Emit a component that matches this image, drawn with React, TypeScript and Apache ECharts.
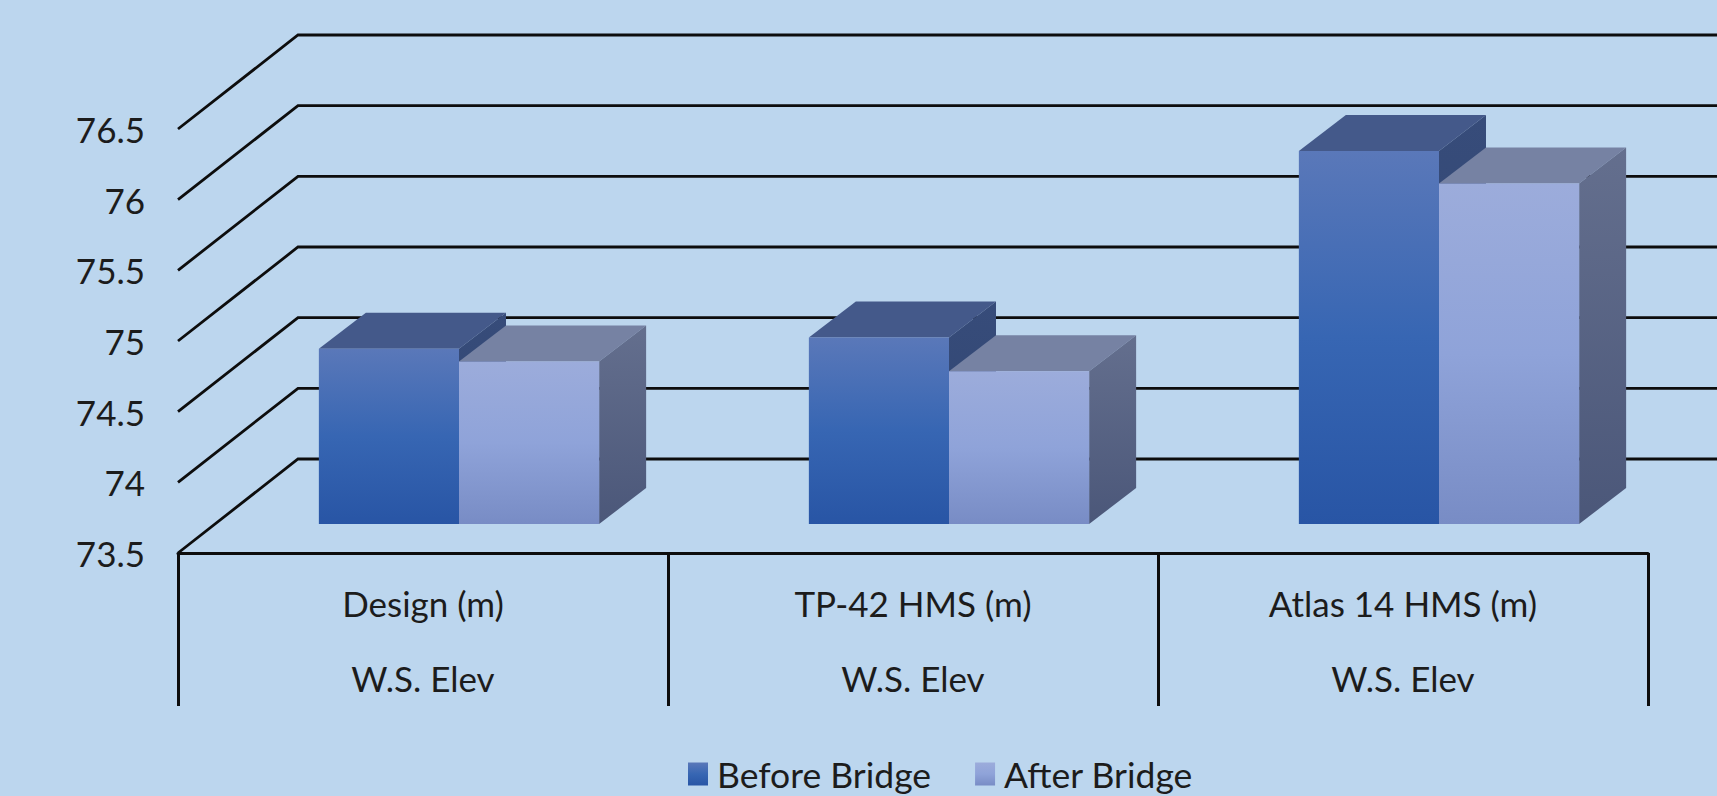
import React, { useEffect, useRef } from "react";
import * as echarts from "echarts";

const topLabels = ["Design (m)", "TP-42 HMS (m)", "Atlas 14 HMS (m)"];
const groupLabels = ["W.S. Elev", "W.S. Elev", "W.S. Elev"];
const yTicks = [73.5, 74, 74.5, 75, 75.5, 76, 76.5];
const beforeBridge = [74.74, 74.82, 76.14];
const afterBridge = [74.65, 74.58, 75.91];

const FONT = "Lato";
const BG = "#bcd6ee";
const BAR_RATIO = 0.286;
// Floor depth of the 3D box, in pixels.
const DEPTH_X = 120;
const DEPTH_Y = 94;
// Bars stand this far back from the front edge of the floor.
const INSET_X = 36;
const INSET_Y = 29;
// Depth of a bar's own box.
const BOX_X = 47;
const BOX_Y = 36;

const vGrad = (stops: [number, string][]) =>
  new echarts.graphic.LinearGradient(
    0, 0, 0, 1,
    stops.map(([offset, color]) => ({ offset, color }))
  );

const beforeFront = () => vGrad([[0, "#5a78b9"], [0.5, "#3766b3"], [1, "#2855a5"]]);
const afterFront = () => vGrad([[0, "#9cacdb"], [0.5, "#8fa3d9"], [1, "#788cc5"]]);

const boxItem = (
  side: number,
  front: () => any,
  topFill: string,
  sideFill: () => any
) => (_params: any, api: any) => {
  const i = api.value(0);
  const v = api.value(1);
  const band = api.size([1, 0])[0];
  const w = band * BAR_RATIO;
  const [cx, yTop] = api.coord([i, v]);
  const [, yBase] = api.coord([i, yTicks[0]]);
  const x0 = cx + INSET_X + (side < 0 ? -w : 0);
  const x1 = x0 + w;
  const yT = yTop - INSET_Y;
  const yB = yBase - INSET_Y;
  return {
    type: "group",
    children: [
      {
        type: "polygon",
        shape: { points: [[x0, yT], [x1, yT], [x1 + BOX_X, yT - BOX_Y], [x0 + BOX_X, yT - BOX_Y]] },
        style: { fill: topFill },
      },
      {
        type: "polygon",
        shape: { points: [[x1, yT], [x1 + BOX_X, yT - BOX_Y], [x1 + BOX_X, yB - BOX_Y], [x1, yB]] },
        style: { fill: sideFill() },
      },
      {
        type: "rect",
        shape: { x: x0, y: yT, width: w, height: yB - yT },
        style: { fill: front() },
      },
    ],
  };
};

// Receding wall lines: a diagonal from the front tick, then horizontal along the back wall.
const wallLine = (params: any, api: any) => {
  const left = params.coordSys.x;
  const [, y] = api.coord([0, api.value(0)]);
  return {
    type: "polyline",
    shape: {
      points: [[left, y], [left + DEPTH_X, y - DEPTH_Y], [api.getWidth(), y - DEPTH_Y]],
    },
    style: { stroke: "#0d0d0d", lineWidth: 2.8, fill: "none" },
  };
};

export default function App() {
  const ref = useRef<HTMLDivElement>(null);
  useEffect(() => {
    const chart = echarts.init(ref.current!, null, { renderer: "svg" });
    chart.setOption({
      animation: false,
      backgroundColor: BG,
      textStyle: { fontFamily: FONT },
      grid: { left: 178, top: 129, width: 1470, height: 424, containLabel: false },
      legend: {
        left: 683,
        top: 751,
        data: ["Before Bridge", "After Bridge"],
        icon: "rect",
        itemWidth: 20,
        itemHeight: 23,
        itemGap: 44,
        selectedMode: false,
        textStyle: { fontFamily: FONT, fontSize: 35.5, color: "#1c1c1c", padding: [0, 0, 0, 4] },
      },
      xAxis: {
        type: "category",
        data: topLabels.map((t, i) => `${t}\n${groupLabels[i]}`),
        boundaryGap: true,
        axisLine: { show: true, lineStyle: { color: "#0d0d0d", width: 3 } },
        axisTick: { show: true, length: 153, alignWithLabel: false, lineStyle: { color: "#0d0d0d", width: 3 } },
        axisLabel: { interval: 0, margin: 12, fontFamily: FONT, fontSize: 35, lineHeight: 75, color: "#1c1c1c" },
        splitLine: { show: false },
      },
      yAxis: {
        type: "value",
        min: 73.5,
        max: 76.5,
        interval: 0.5,
        axisLine: { show: false },
        axisTick: { show: false },
        splitLine: { show: false },
        axisLabel: { margin: 33, fontFamily: FONT, fontSize: 35, color: "#1c1c1c" },
      },
      series: [
        {
          type: "custom",
          name: "wall",
          silent: true,
          clip: false,
          z: 1,
          encode: { y: 0 },
          data: yTicks.map((t) => [t]),
          renderItem: wallLine,
        },
        {
          type: "custom",
          name: "Before Bridge",
          silent: true,
          clip: false,
          z: 2,
          encode: { x: 0, y: 1 },
          itemStyle: { color: beforeFront() },
          data: beforeBridge.map((v, i) => [i, v]),
          renderItem: boxItem(-1, beforeFront, "#44598a", () => vGrad([[0, "#374c7a"], [1, "#2f4470"]])),
        },
        {
          type: "custom",
          name: "After Bridge",
          silent: true,
          clip: false,
          z: 3,
          encode: { x: 0, y: 1 },
          itemStyle: { color: afterFront() },
          data: afterBridge.map((v, i) => [i, v]),
          renderItem: boxItem(1, afterFront, "#7682a3", () => vGrad([[0, "#646f8e"], [1, "#4b5779"]])),
        },
      ],
    });
    return () => chart.dispose();
  }, []);
  return (
    <div
      ref={ref}
      style={{ position: "fixed", left: 0, top: 0, width: 1717, height: 796, background: BG }}
    />
  );
}
